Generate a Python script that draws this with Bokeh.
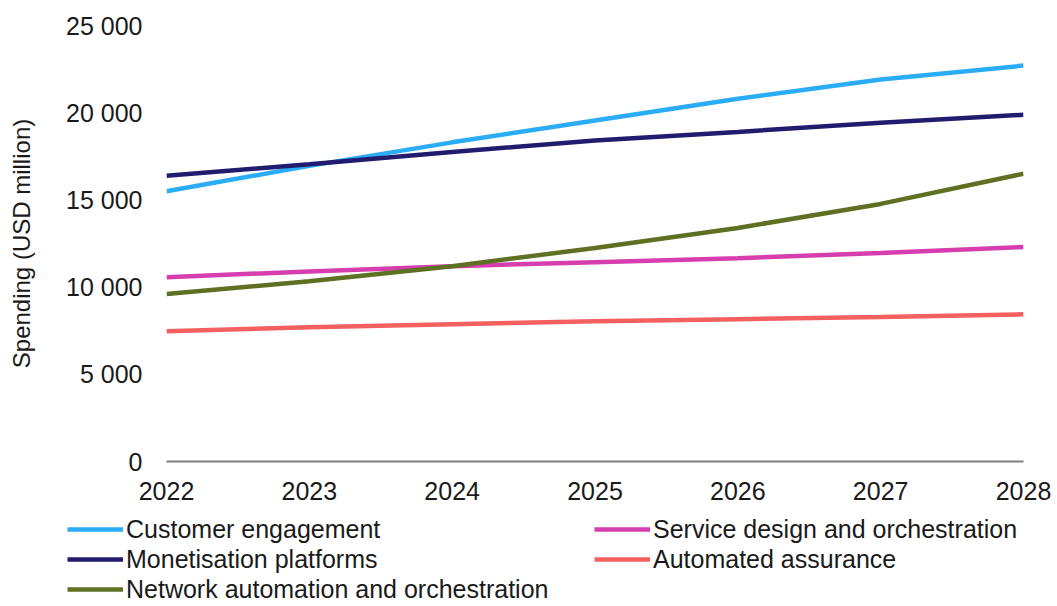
from bokeh.plotting import figure
from bokeh.models import Range1d, FixedTicker, Legend, LegendItem
from bokeh.layouts import column
from bokeh.embed import file_html
from bokeh.resources import INLINE

years = [2022, 2023, 2024, 2025, 2026, 2027, 2028]
customer_engagement = [15500, 16950, 18300, 19550, 20800, 21900, 22700]
service_design = [10570, 10900, 11200, 11430, 11660, 11950, 12300]
monetisation = [16380, 17050, 17750, 18400, 18900, 19420, 19880]
automated_assurance = [7470, 7700, 7870, 8040, 8160, 8280, 8440]
network_automation = [9600, 10340, 11200, 12240, 13390, 14770, 16500]

y_ticks = [0, 5000, 10000, 15000, 20000, 25000]
y_tick_labels = ["0", "5 000", "10 000", "15 000", "20 000", "25 000"]
y_label = "Spending (USD million)"

series = [
    ("Customer engagement", customer_engagement, "#2BACF7"),
    ("Service design and orchestration", service_design, "#D63EAF"),
    ("Monetisation platforms", monetisation, "#211C6E"),
    ("Automated assurance", automated_assurance, "#F45F5F"),
    ("Network automation and orchestration", network_automation, "#5E7022"),
]
legend_col1 = ["Customer engagement", "Monetisation platforms",
               "Network automation and orchestration"]
legend_col2 = ["Service design and orchestration", "Automated assurance"]

FONT = "Liberation Sans"
TXT = "#1A1A1A"
LW = 4.5

W = 1055
H1 = 506
H2 = 98

p = figure(width=W, height=H1, output_backend="svg", toolbar_location=None,
           x_range=Range1d(2022, 2028), y_range=Range1d(0, 25000),
           min_border_left=166, min_border_right=32, min_border_top=25,
           min_border_bottom=H1 - 461)
p.frame_align = False
p.outline_line_color = None
p.xgrid.visible = False
p.ygrid.visible = False

for name, vals, col in series:
    p.line(years, vals, line_color=col, line_width=LW)

# x axis
xa = p.xaxis[0]
xa.ticker = FixedTicker(ticks=years)
xa.axis_line_color = "#7F7F7F"
xa.axis_line_width = 2
xa.major_tick_line_color = None
xa.minor_tick_line_color = None
xa.major_tick_out = 0
xa.major_tick_in = 0
xa.major_label_standoff = 20
xa.major_label_text_font = FONT
xa.major_label_text_font_size = "25px"
xa.major_label_text_color = TXT

# y axis
ya = p.yaxis[0]
ya.ticker = FixedTicker(ticks=y_ticks)
ya.major_label_overrides = {t: l for t, l in zip(y_ticks, y_tick_labels)}
ya.axis_line_color = None
ya.major_tick_line_color = None
ya.minor_tick_line_color = None
ya.major_tick_out = 0
ya.major_tick_in = 0
ya.major_label_standoff = 24
ya.major_label_text_font = FONT
ya.major_label_text_font_size = "25px"
ya.major_label_text_color = TXT
ya.axis_label = y_label
ya.axis_label_text_font = FONT
ya.axis_label_text_font_size = "24px"
ya.axis_label_text_font_style = "normal"
ya.axis_label_text_color = TXT
ya.axis_label_standoff = 28

# legend panel below the chart (its ranges exclude the data, so only the
# legend swatches are visible)
p2 = figure(width=W, height=H2, output_backend="svg", toolbar_location=None,
            x_range=Range1d(0, 1), y_range=Range1d(0, 1),
            min_border_left=0, min_border_right=0, min_border_top=0,
            min_border_bottom=0)
p2.frame_align = False
p2.axis.visible = False
p2.xgrid.visible = False
p2.ygrid.visible = False
p2.outline_line_color = None

legend_renderers = {}
for name, vals, col in series:
    legend_renderers[name] = p2.line(years, vals, line_color=col, line_width=LW)

ROW = 30


def make_legend(names, loc):
    items = [LegendItem(label=n, renderers=[legend_renderers[n]]) for n in names]
    lg = Legend(items=items, location=loc, orientation="vertical")
    lg.padding = 0
    lg.margin = 0
    lg.spacing = 0
    lg.border_line_color = None
    lg.background_fill_alpha = 0
    lg.glyph_width = 56
    lg.glyph_height = ROW
    lg.label_height = ROW
    lg.label_standoff = 3
    lg.label_text_font = FONT
    lg.label_text_font_size = "25px"
    lg.label_text_color = TXT
    lg.label_text_baseline = "middle"
    return lg

top = 8
leg1 = make_legend(legend_col1, (67, H2 - top - ROW * len(legend_col1)))
leg2 = make_legend(legend_col2, (594, H2 - top - ROW * len(legend_col2)))
p2.add_layout(leg1, "center")
p2.add_layout(leg2, "center")

open("out.html", "w").write(file_html(column(p, p2), INLINE))
